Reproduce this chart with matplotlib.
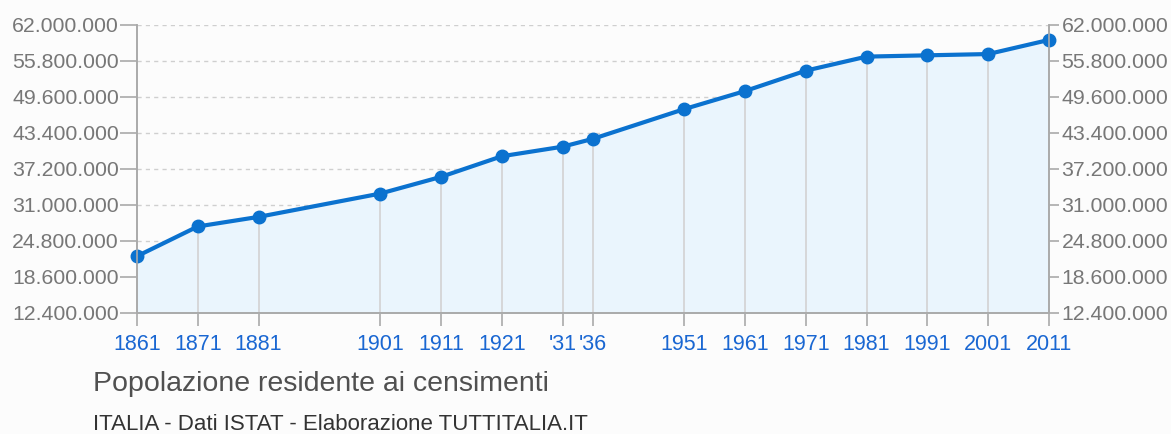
import matplotlib.pyplot as plt
from matplotlib.ticker import FuncFormatter

# Census years and resident population
years = [1861, 1871, 1881, 1901, 1911, 1921, 1931, 1936, 1951, 1961, 1971, 1981, 1991, 2001, 2011]
population = [22182377, 27303509, 28953480, 32965504, 35845048, 39396757, 41043489, 42398489,
              47515537, 50623569, 54136547, 56556911, 56778031, 56995744, 59433744]
year_labels = ["1861", "1871", "1881", "1901", "1911", "1921", "'31", "'36",
               "1951", "1961", "1971", "1981", "1991", "2001", "2011"]
y_ticks = [12400000, 18600000, 24800000, 31000000, 37200000, 43400000, 49600000, 55800000, 62000000]

plt.rcParams['font.family'] = ['Liberation Sans', 'DejaVu Sans']

bg = "#fcfcfc"
fig = plt.figure(figsize=(11.71, 4.34), dpi=100, facecolor=bg)
ax = fig.add_axes([137 / 1171, 1 - 313 / 434, (1049 - 137) / 1171, (313 - 25) / 434])
ax.set_facecolor(bg)

line_color = "#0b72cf"
ax.fill_between(years, population, y_ticks[0], color="#eaf5fd", zorder=1)
# vertical guides only go up to the data line
ax.vlines(years, y_ticks[0], population, color="#d2d2d2", lw=1.2, zorder=1.5)
ax.plot(years, population, color=line_color, lw=3, marker="o", ms=9, zorder=3, clip_on=False)

ax.set_xlim(years[0], years[-1])
ax.set_ylim(y_ticks[0], y_ticks[-1])

fmt = FuncFormatter(lambda v, p: f"{int(v):,}".replace(",", "."))
ax.set_yticks(y_ticks)
ax.yaxis.set_major_formatter(fmt)
ax.grid(axis="y", color="#cfcfcf", linestyle=(0, (3, 3)), lw=1)
ax.set_axisbelow(True)

ax.set_xticks(years)
ax.set_xticklabels(year_labels)
ax.tick_params(axis="x", colors="#aaaaaa", labelcolor="#1a67d2", labelsize=15.5, length=9, width=1.2, pad=6)
ax.tick_params(axis="y", colors="#aaaaaa", labelcolor="#777777", labelsize=15.3, length=12, width=1.2, pad=1)

# right-hand axis with the same scale
ax2 = ax.twinx()
ax2.set_ylim(ax.get_ylim())
ax2.set_yticks(y_ticks)
ax2.yaxis.set_major_formatter(fmt)
ax2.tick_params(axis="y", colors="#aaaaaa", labelcolor="#777777", labelsize=15.3, length=7, width=1.2, pad=2)

for a in (ax, ax2):
    for side in ["left", "right", "bottom"]:
        a.spines[side].set_color("#aaaaaa")
        a.spines[side].set_linewidth(1.2)
    a.spines["top"].set_visible(False)

fig.text(93 / 1171, 1 - 384 / 434, "Popolazione residente ai censimenti", fontsize=20.5,
         color="#505050", va="center", ha="left")
fig.text(93 / 1171, 1 - 425 / 434, "ITALIA - Dati ISTAT - Elaborazione TUTTITALIA.IT", fontsize=16,
         color="#333333", va="center", ha="left")

plt.savefig("out.png", dpi=100, facecolor=bg)
